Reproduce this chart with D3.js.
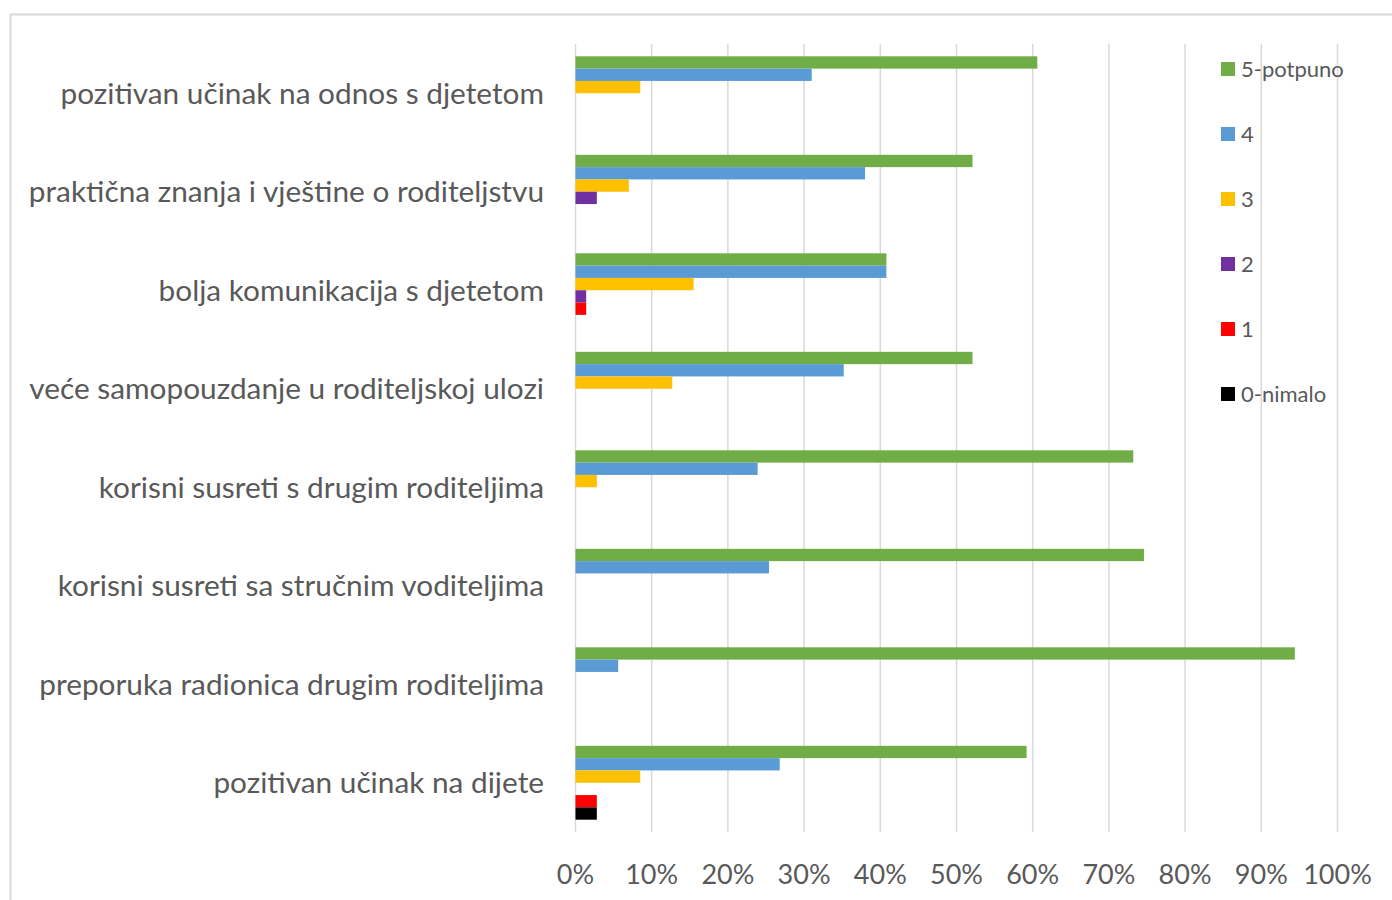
<!DOCTYPE html>
<html><head><meta charset="utf-8">
<script src="https://cdn.jsdelivr.net/npm/d3@7"></script>
<style>body{margin:0;background:#fff}svg{display:block}text{font-family:Lato,"Open Sans",sans-serif}</style>
</head><body>
<svg id="c" width="1392" height="900"></svg>
<script>
const categories = [
  "pozitivan učinak na odnos s djetetom",
  "praktična znanja i vještine o roditeljstvu",
  "bolja komunikacija s djetetom",
  "veće samopouzdanje u roditeljskoj ulozi",
  "korisni susreti s drugim roditeljima",
  "korisni susreti sa stručnim voditeljima",
  "preporuka radionica drugim roditeljima",
  "pozitivan učinak na dijete"
];
const seriesNames = ["5-potpuno","4","3","2","1","0-nimalo"];
const seriesColors = ["#70ad47","#5b9bd5","#ffc000","#7030a0","#ff0000","#000000"];
const s5 = [60.6, 52.1, 40.8, 52.1, 73.2, 74.6, 94.4, 59.2];
const s4 = [31.0, 38.0, 40.8, 35.2, 23.9, 25.4, 5.6, 26.8];
const s3 = [8.5, 7.0, 15.5, 12.7, 2.8, 0, 0, 8.5];
const s2 = [0, 2.8, 1.4, 0, 0, 0, 0, 0];
const s1 = [0, 0, 1.4, 0, 0, 0, 0, 2.8];
const s0 = [0, 0, 0, 0, 0, 0, 0, 2.8];
const seriesValues = [s5, s4, s3, s2, s1, s0];
const xTicks = [0,10,20,30,40,50,60,70,80,90,100];

const svg = d3.select("#c");
svg.append("rect").attr("x",10.5).attr("y",14.5).attr("width",1400).attr("height",900)
  .attr("fill","none").attr("stroke","#d9d9d9").attr("stroke-width",2);

const pLeft = 575.5, pRight = 1337.5, pTop = 44, pBottom = 832;
const x = d3.scaleLinear().domain([0,100]).range([pLeft,pRight]);
const y = d3.scaleBand().domain(categories).range([pTop,pBottom]).paddingInner(0.25).paddingOuter(0.125);
const ys = d3.scaleBand().domain(seriesNames).range([0,y.bandwidth()]);

svg.append("g").selectAll("line").data(xTicks).join("line")
  .attr("x1",d=>x(d)).attr("x2",d=>x(d)).attr("y1",pTop).attr("y2",pBottom)
  .attr("stroke","#d9d9d9").attr("stroke-width",1.5);

const rows = [];
categories.forEach((c,i)=>seriesNames.forEach((s,j)=>rows.push({c,s,v:seriesValues[j][i],col:seriesColors[j]})));
svg.append("g").selectAll("rect").data(rows.filter(r=>r.v>0)).join("rect")
  .attr("x",x(0)).attr("y",d=>y(d.c)+ys(d.s)).attr("width",d=>x(d.v)-x(0)).attr("height",ys.bandwidth())
  .attr("fill",d=>d.col);

svg.append("g").selectAll("text").data(categories).join("text")
  .attr("x",544).attr("y",d=>y(d)+y.bandwidth()/2).attr("dy","0.35em")
  .attr("text-anchor","end").attr("font-size",29.8).attr("fill","#595959").text(d=>d);

svg.append("g").selectAll("text").data(xTicks).join("text")
  .attr("x",d=>x(d)).attr("y",884).attr("text-anchor","middle")
  .attr("font-size",27).attr("fill","#595959").text(d=>d+"%");

const lg = svg.append("g").selectAll("g").data(seriesNames).join("g")
  .attr("transform",(d,i)=>`translate(1221,${62+i*65})`);
lg.append("rect").attr("width",14).attr("height",14).attr("fill",(d,i)=>seriesColors[i]);
lg.append("text").attr("x",20).attr("y",7).attr("dy","0.35em").attr("font-size",22).attr("fill","#595959").text(d=>d);
</script>
</body></html>
